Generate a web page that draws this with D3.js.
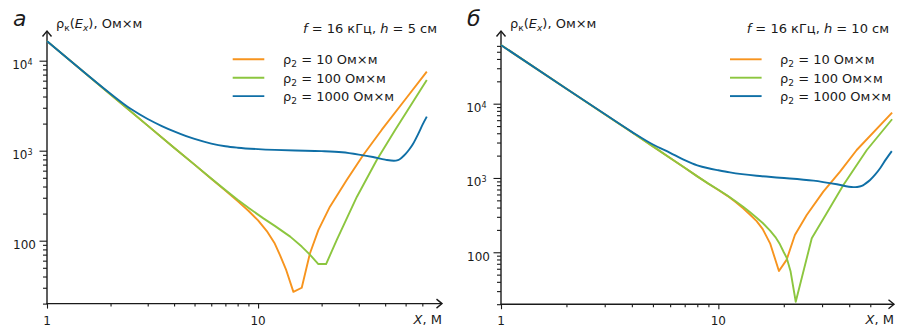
<!DOCTYPE html>
<html><head><meta charset="utf-8">
<script src="https://cdn.jsdelivr.net/npm/d3@7"></script>
<style>
body{margin:0;background:#fff}
svg{display:block}
text{font-family:"DejaVu Sans",Verdana,sans-serif;fill:#1a1a1a}
</style>
</head><body>
<svg id="c" width="908" height="336"></svg>
<script>
// ---------- data ----------
const seriesRho = ["10", "100", "1000"];
const seriesColors = ["#f7941e", "#8cc63f", "#0f6fa6"];
const xMajorTicks = [1, 10];
const yMajorTicks = [100, 1000, 10000];

// panel а : f = 16 kHz, h = 5 cm
const aOrangeX = [1, 2, 3, 4, 5, 6, 7, 8, 9, 10, 11, 12, 12.7, 13.6, 14.7, 16.1, 17.6, 19.3, 21.9, 26.3, 31.5, 38.5, 50, 63];
const aOrangeY = [16500, 4210, 1900, 1080, 700, 488, 360, 275, 215, 168, 128, 93, 69, 47, 27, 30, 72, 131, 239, 472, 896, 1700, 3750, 7550];
const aGreenX = [1, 2, 3, 4, 5, 6, 7, 8, 9, 10.6, 12, 14.2, 16.1, 17.6, 19.3, 21, 23.6, 29.4, 36.5, 44.6, 63];
const aGreenY = [16500, 4210, 1900, 1080, 700, 490, 365, 285, 232, 177, 146, 111, 86, 70, 55, 55, 102, 308, 788, 1700, 6100];
const aBlueX = [1, 1.5, 2, 2.5, 3, 3.5, 4, 5, 6, 7, 8, 10, 12, 15, 20, 25, 30, 35, 40, 44, 46, 48, 50, 52, 54, 56, 58, 60, 63];
const aBlueY = [16500, 7450, 4300, 2900, 2250, 1880, 1640, 1350, 1200, 1120, 1080, 1040, 1020, 1005, 990, 960, 905, 850, 795, 772, 785, 840, 920, 1030, 1170, 1370, 1620, 1920, 2390];

// panel б : f = 16 kHz, h = 10 cm
const bOrangeX = [1, 2, 3, 4, 5, 6, 7, 8, 9, 10, 11, 12, 13, 14, 15, 16, 17.3, 19, 20.6, 22.5, 25.5, 30.4, 36.3, 43.3, 63];
const bOrangeY = [61500, 15900, 7220, 4130, 2660, 1855, 1370, 1050, 835, 690, 575, 475, 390, 320, 262, 205, 132, 56, 79, 171, 318, 655, 1216, 2380, 7570];
const bGreenX = [1, 2, 3, 4, 5, 6, 7, 8, 9, 10, 11, 12, 13, 14, 15, 16, 17.3, 18.3, 19.2, 20, 20.6, 21.5, 22.7, 26.9, 31.5, 37.6, 48.2, 63];
const bGreenY = [61500, 15900, 7220, 4130, 2660, 1855, 1370, 1050, 840, 695, 580, 485, 410, 345, 292, 248, 196, 160, 128, 100, 85, 55, 21.6, 154, 335, 805, 2380, 6170];
const bBlueX = [1, 2, 3, 4, 5, 6, 7, 8, 9, 10, 11.3, 15, 19.2, 27.4, 35.1, 41.8, 43.5, 45.7, 47.5, 49.9, 52.5, 55.5, 59, 62.8];
const bBlueY = [61500, 15900, 7250, 4180, 2820, 2180, 1740, 1480, 1350, 1270, 1190, 1070, 1009, 920, 823, 752, 756, 780, 840, 940, 1100, 1351, 1780, 2300];

// ---------- layout ----------
const svg = d3.select("#c");
const panels = [
  {letter: "а", h: "5", x0: 47, x1: 426.8, yb: 303.6, yt: 33.6, yDom: [20, 20000], xTip: 442, yTip: 31,
   xMinor: [2,3,4,5,6,7,8,9,20,30,40,50,60], yMax: 10000,
   series: [[aOrangeX, aOrangeY], [aGreenX, aGreenY], [aBlueX, aBlueY]],
   legX: 232.7, legTextX: 283, noteRight: 437, titleX: 56},
  {letter: "б", h: "10", x0: 501, x1: 892.1, yb: 304.2, yt: 40.9, yDom: [20, 70000], xTip: 894, yTip: 31,
   xMinor: [2,3,4,5,6,7,8,9,20,30,40,50], yMax: 60000,
   series: [[bOrangeX, bOrangeY], [bGreenX, bGreenY], [bBlueX, bBlueY]],
   legX: 730, legTextX: 780, noteRight: 889, titleX: 510}
];

panels.forEach(p => {
  const g = svg.append("g");
  const x = d3.scaleLog().domain([1, 63]).range([p.x0, p.x1]);
  const y = d3.scaleLog().domain(p.yDom).range([p.yb, p.yt]);

  // minor y ticks
  const yMinor = [];
  for (let dec = 10; dec <= 10000; dec *= 10)
    for (let k = 2; k <= 9; k++) { const v = k * dec; if (v >= p.yDom[0] && v <= p.yMax && !yMajorTicks.includes(v)) yMinor.push(v); }

  const ax = (sel) => sel.select(".domain").remove();
  g.append("g").attr("transform", `translate(${p.x0},0)`)
    .call(d3.axisLeft(y).tickValues(yMinor).tickSize(4).tickFormat("")).call(ax);
  g.append("g").attr("transform", `translate(${p.x0},0)`)
    .call(d3.axisLeft(y).tickValues(yMajorTicks).tickSize(7.5).tickFormat("")).call(ax);
  g.append("g").attr("transform", `translate(0,${p.yb})`)
    .call(d3.axisBottom(x).tickValues(p.xMinor).tickSize(3).tickFormat("")).call(ax);
  g.append("g").attr("transform", `translate(0,${p.yb})`)
    .call(d3.axisBottom(x).tickValues(xMajorTicks).tickSize(5).tickFormat("")).call(ax);
  g.selectAll(".tick line").attr("stroke", "#1a1a1a").attr("stroke-width", 1.1);

  // axis lines with arrows
  g.append("line").attr("x1", p.x0).attr("x2", p.x0).attr("y1", p.yb + 0.5).attr("y2", p.yTip)
    .attr("stroke", "#1a1a1a").attr("stroke-width", 1.4);
  g.append("line").attr("x1", p.x0 - 0.5).attr("x2", p.xTip).attr("y1", p.yb).attr("y2", p.yb)
    .attr("stroke", "#1a1a1a").attr("stroke-width", 1.4);
  g.append("path").attr("d", `M${p.x0 - 4.5},${p.yTip + 5.5}L${p.x0},${p.yTip}L${p.x0 + 4.5},${p.yTip + 5.5}`)
    .attr("fill", "none").attr("stroke", "#1a1a1a").attr("stroke-width", 1.4);
  g.append("path").attr("d", `M${p.xTip - 5.5},${p.yb - 4.5}L${p.xTip},${p.yb}L${p.xTip - 5.5},${p.yb + 4.5}`)
    .attr("fill", "none").attr("stroke", "#1a1a1a").attr("stroke-width", 1.4);

  // y tick labels
  yMajorTicks.forEach(v => {
    const t = g.append("text").attr("y", y(v) + 8.5)
      .attr("text-anchor", "end").attr("font-size", 12);
    if (v === 100) t.attr("x", p.x0 - 11).text("100");
    else {
      t.attr("x", p.x0 - 14.5);
      t.append("tspan").text("10");
      t.append("tspan").attr("font-size", 8).attr("dy", -4.5).text(String(Math.round(Math.log10(v))));
    }
  });
  // x tick labels
  xMajorTicks.forEach(v => {
    g.append("text").attr("x", x(v)).attr("y", p.yb + 21).attr("text-anchor", "middle")
      .attr("font-size", 12).text(String(v));
  });
  // x axis title
  const xt = g.append("text").attr("x", p.xTip).attr("y", p.yb + 20).attr("text-anchor", "end").attr("font-size", 13);
  xt.append("tspan").attr("font-style", "italic").text("X");
  xt.append("tspan").text(", М");

  // y title
  const yt = g.append("text").attr("x", p.titleX).attr("y", 28).attr("font-size", 13);
  yt.append("tspan").text("ρ");
  yt.append("tspan").attr("font-size", 9).attr("dy", 3).text("к");
  yt.append("tspan").attr("dy", -3).text("(");
  yt.append("tspan").attr("font-style", "italic").text("E");
  yt.append("tspan").attr("font-style", "italic").attr("font-size", 9).attr("dy", 3).text("x");
  yt.append("tspan").attr("dy", -3).text("), Ом×м");

  // panel letter
  svg.append("text").attr("x", p.x0 - 34).attr("y", 26).attr("font-size", 22).attr("font-style", "italic").text(p.letter);

  // note
  const nt = g.append("text").attr("x", p.noteRight).attr("y", 33).attr("text-anchor", "end").attr("font-size", 13);
  nt.append("tspan").attr("font-style", "italic").text("f");
  nt.append("tspan").text(" = 16 кГц, ");
  nt.append("tspan").attr("font-style", "italic").text("h");
  nt.append("tspan").text(` = ${p.h} см`);

  // curves
  const line = d3.line().x(d => x(d[0])).y(d => y(d[1]));
  p.series.forEach((s, i) => {
    const pts = s[0].map((xv, j) => [xv, s[1][j]]);
    g.append("path").datum(pts)
      .attr("d", line.curve(i === 2 ? d3.curveMonotoneX : d3.curveLinear))
      .attr("fill", "none").attr("stroke", seriesColors[i]).attr("stroke-width", 1.9)
      .attr("stroke-linejoin", "round");
  });

  // legend
  seriesRho.forEach((r, i) => {
    const ly = 59.3 + i * 18.4;
    g.append("line").attr("x1", p.legX).attr("x2", p.legX + 31.6).attr("y1", ly).attr("y2", ly)
      .attr("stroke", seriesColors[i]).attr("stroke-width", 1.9);
    const t = g.append("text").attr("x", p.legTextX).attr("y", ly + 5).attr("font-size", 13);
    t.append("tspan").text("ρ");
    t.append("tspan").attr("font-size", 9).attr("dy", 3).text("2");
    t.append("tspan").attr("dy", -3).text(` = ${r} Ом×м`);
  });
});
</script>
</body></html>
